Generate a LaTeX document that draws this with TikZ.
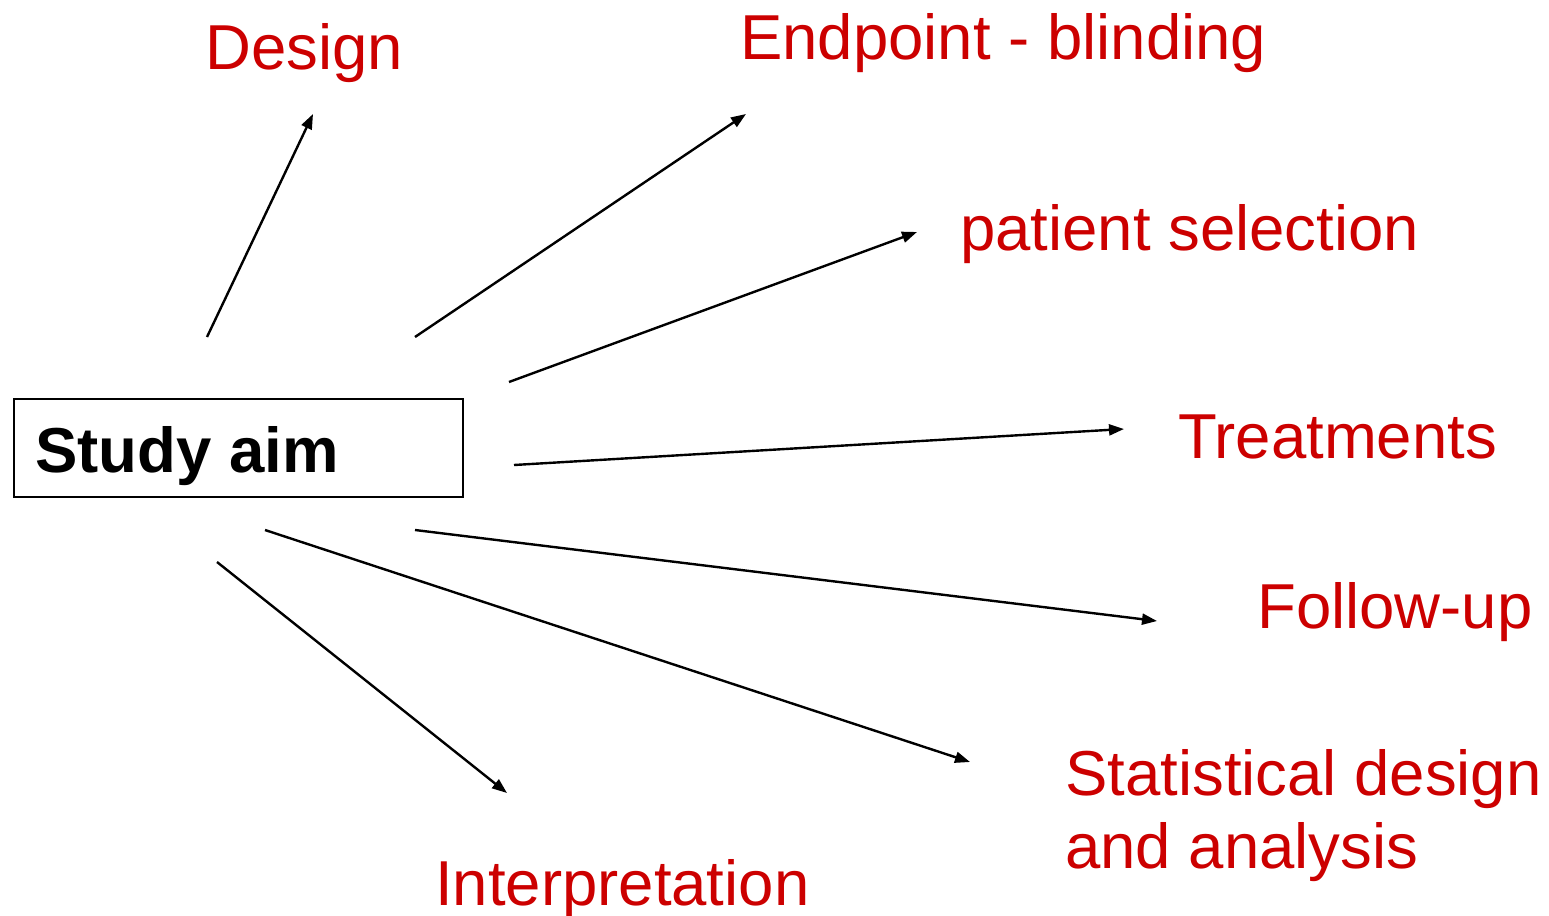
\documentclass[tikz,border=0pt]{standalone}
\usepackage{fontspec}
\setmainfont{Liberation Sans}
\usetikzlibrary{arrows.meta}
\definecolor{topicred}{RGB}{204,0,0}
\tikzset{
  topic/.style={text=topicred, font=\fontsize{63.5}{73}\selectfont, inner sep=0pt, anchor=base west, align=left},
  aimbox/.style={draw, line width=2.2pt, minimum width=449pt, minimum height=98pt, inner sep=0pt},
  link/.style={line width=2.4pt, -{Triangle[length=15pt,width=11pt]}}
}
\begin{document}
\begin{tikzpicture}[x=1pt,y=-1pt]
\useasboundingbox (0,0) rectangle (1549,915);
% central box
\node[aimbox] (aim) at (238.5,448) {};
\node[font=\fontsize{63.5}{73}\selectfont\bfseries, inner sep=0pt, anchor=base west] (aimtext) at (35,472) {Study aim};
% topics
\node[topic] (design) at (205,70) {Design};
\node[topic] (endpoint) at (740,60) {Endpoint - blinding};
\node[topic] (patient) at (960,250) {patient selection};
\node[topic] (treat) at (1178,458) {Treatments};
\node[topic] (follow) at (1257,628) {Follow-up};
\node[topic] (stat) at (1065,868) {Statistical design\\and analysis};
\node[topic] (interp) at (435,905) {Interpretation};
% arrow end points
\coordinate (s1) at (207,337);  \coordinate (e1) at (313,114);
\coordinate (s2) at (415,337);  \coordinate (e2) at (746,114);
\coordinate (s3) at (509,382);  \coordinate (e3) at (917,232);
\coordinate (s4) at (514,465);  \coordinate (e4) at (1124,429);
\coordinate (s5) at (415,530);  \coordinate (e5) at (1157,621);
\coordinate (s6) at (265,530);  \coordinate (e6) at (970,762);
\coordinate (s7) at (217,562);  \coordinate (e7) at (507,793);
\draw[link] (s1) -- (e1);
\draw[link] (s2) -- (e2);
\draw[link] (s3) -- (e3);
\draw[link] (s4) -- (e4);
\draw[link] (s5) -- (e5);
\draw[link] (s6) -- (e6);
\draw[link] (s7) -- (e7);
\end{tikzpicture}
\end{document}
